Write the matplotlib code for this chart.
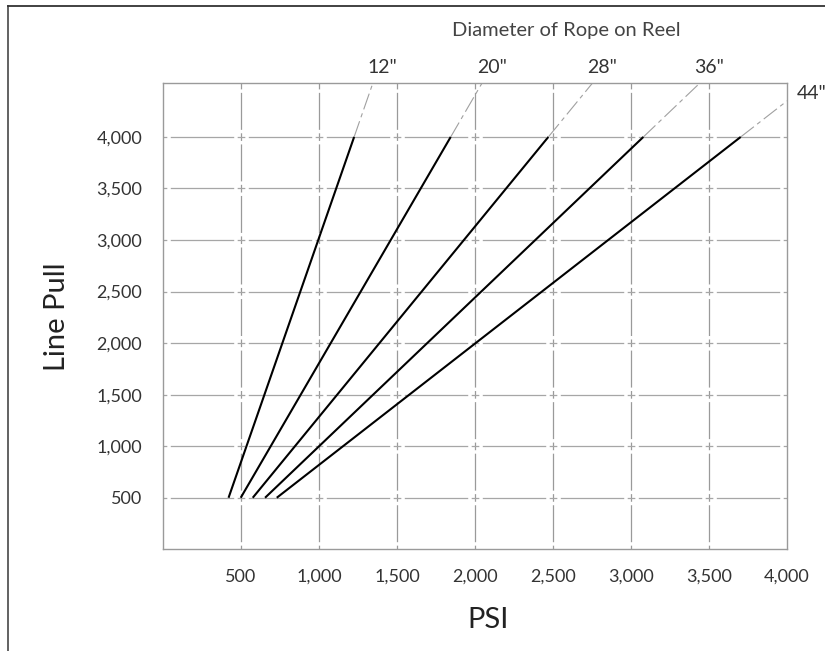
import numpy as np
import matplotlib
matplotlib.use("Agg")
import matplotlib.pyplot as plt
from matplotlib.lines import Line2D
from matplotlib.ticker import FuncFormatter

# diameters of rope on reel and the PSI at 500 / 4,000 lb line pull
diameters = ['12"', '20"', '28"', '36"', '44"']
psi_at_500 = [420, 498, 575, 654, 729]
psi_at_4000 = [1225, 1844, 2470, 3079, 3703]
pull_low = 500
pull_high = 4000

x_ticks = [500, 1000, 1500, 2000, 2500, 3000, 3500, 4000]
y_ticks = [500, 1000, 1500, 2000, 2500, 3000, 3500, 4000]
x_max = 4000
y_max = 4520

plt.rcParams['font.family'] = ['Lato', 'DejaVu Sans']
plt.rcParams['lines.scale_dashes'] = False

text_color = '#333333'
grid_color = '#9a9a9a'


def main():
    fig = plt.figure(figsize=(8.25, 6.51), dpi=100)
    ax = fig.add_axes([0.1976, 0.1562, 0.7564, 0.7158])
    ax.set_xlim(0, x_max)
    ax.set_ylim(0, y_max)

    # grid dash pattern: long dash, gap, short dash centred on each crossing
    ax_w_pt = fig.get_figwidth() * 72 * 0.7564
    ax_h_pt = fig.get_figheight() * 72 * 0.7158
    gap, dot = 2.5, 5.5
    p_v = ax_h_pt / y_max * 500
    p_h = ax_w_pt / x_max * 500
    for xt in x_ticks[:-1]:
        ax.axvline(xt, color=grid_color, lw=0.9, zorder=1,
                   linestyle=(p_v - gap - dot / 2, (p_v - 2 * gap - dot, gap, dot, gap)))
    for yt in y_ticks:
        ax.axhline(yt, color='#a6a6a6', lw=0.9, zorder=1,
                   linestyle=(p_h - gap - dot / 2, (p_h - 2 * gap - dot, gap, dot, gap)))

    for name, x0, x1 in zip(diameters, psi_at_500, psi_at_4000):
        ax.plot([x0, x1], [pull_low, pull_high], color='black', lw=1.5,
                solid_capstyle='butt', zorder=3)
        # dashed extension up to the edge of the box
        slope = (x1 - x0) / (pull_high - pull_low)
        x_top = x1 + slope * (y_max - pull_high)
        if x_top <= x_max:
            xe, ye = x_top, y_max
            ax.annotate(name, (xe, ye), xytext=(7, 5), textcoords='offset points',
                        ha='center', va='bottom', fontsize=14, color=text_color,
                        annotation_clip=False)
        else:
            xe = x_max
            ye = pull_high + (x_max - x1) / slope
            ax.annotate(name, (x_max, y_max), xytext=(7, -7), textcoords='offset points',
                        ha='left', va='center', fontsize=14, color=text_color,
                        annotation_clip=False)
        ax.plot([x1, xe], [pull_high, ye], color='#a0a0a0', lw=0.8, zorder=2,
                linestyle=(0, (12, 3, 3, 3)))

    ax.text(0.647, 1.114, 'Diameter of Rope on Reel', transform=ax.transAxes,
            ha='center', va='center', fontsize=14.5, color='#444444')

    fmt = FuncFormatter(lambda v, p: f'{int(v):,}')
    ax.set_xticks(x_ticks)
    ax.set_yticks(y_ticks)
    ax.xaxis.set_major_formatter(fmt)
    ax.yaxis.set_major_formatter(fmt)
    ax.tick_params(length=0, labelsize=13, labelcolor=text_color)
    ax.tick_params(axis='x', pad=14)
    ax.tick_params(axis='y', pad=15)

    for s in ax.spines.values():
        s.set_color(grid_color)
        s.set_linewidth(1.0)

    # axis titles
    ax.text(0.521, -0.169, 'PSI', transform=ax.transAxes, ha='center',
            va='baseline', fontsize=21, color='#222222')
    ax.text(-0.157, 0.5, 'Line Pull', transform=ax.transAxes, ha='center',
            va='baseline', rotation=90, rotation_mode='anchor',
            fontsize=21, color='#222222')

    # outer frame (cropped on the right and bottom)
    fig.add_artist(Line2D([8 / 825, 8 / 825], [0, 1 - 6 / 651], color='#555555', lw=1.3))
    fig.add_artist(Line2D([8 / 825, 1], [1 - 6 / 651, 1 - 6 / 651], color='#333333', lw=1.3))

    fig.savefig('out.png', dpi=100)


if __name__ == "__main__":
    main()
